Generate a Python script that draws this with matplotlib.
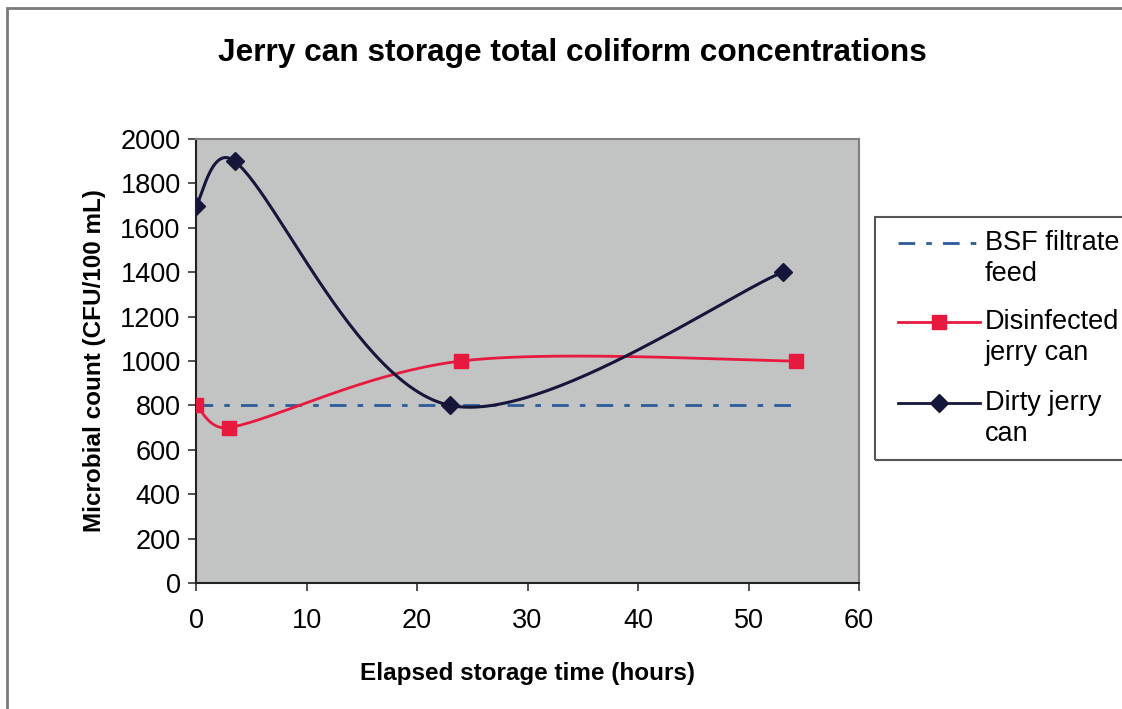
import numpy as np
import matplotlib.pyplot as plt
from matplotlib.lines import Line2D
from matplotlib.patches import Rectangle

plt.rcParams['font.family'] = ['Liberation Sans', 'DejaVu Sans']

# data
bsf_x = [0, 3, 24, 54.3]
bsf_y = [800, 800, 800, 800]
dis_x = [0, 3, 24, 54.3]
dis_y = [800, 700, 1000, 1000]
dirty_x = [0, 3.5, 23, 53.1]
dirty_y = [1700, 1900, 800, 1400]

legend_labels = ['BSF filtrate\nfeed', 'Disinfected\njerry can', 'Dirty jerry\ncan']
x_ticks = [0, 10, 20, 30, 40, 50, 60]
y_ticks = [0, 200, 400, 600, 800, 1000, 1200, 1400, 1600, 1800, 2000]

W, H = 1122, 709
fig = plt.figure(figsize=(W / 100, H / 100), dpi=100)
ax = fig.add_axes([196 / W, 1 - 583 / H, (859 - 196) / W, (583 - 139) / H])
ax.set_xlim(0, 60)
ax.set_ylim(0, 2000)
ax.set_facecolor('#c2c4c3')


def excel_smooth(xs, ys, n=60):
    # excel-like bezier smoothing, done in screen space
    pts = ax.transData.transform(np.column_stack([xs, ys]))
    out = [pts[0]]
    k = len(pts)
    for i in range(k - 1):
        p0, p1, p2, p3 = pts[max(i - 1, 0)], pts[i], pts[i + 1], pts[min(i + 2, k - 1)]
        d12 = np.hypot(*(p2 - p1))
        d02 = np.hypot(*(p2 - p0))
        d13 = np.hypot(*(p3 - p1))
        f = 1 / 6 if d02 == 0 else min(1 / 6, d12 / (2 * d02))
        g = 1 / 6 if d13 == 0 else min(1 / 6, d12 / (2 * d13))
        c1 = p1 + f * (p2 - p0)
        c2 = p2 - g * (p3 - p1)
        t = np.linspace(0, 1, n)[1:, None]
        seg = (1 - t) ** 3 * p1 + 3 * (1 - t) ** 2 * t * c1 + 3 * (1 - t) * t ** 2 * c2 + t ** 3 * p2
        out.extend(seg)
    out = ax.transData.inverted().transform(np.array(out))
    return out[:, 0], out[:, 1]


c_bsf = '#2d5b98'
c_dis = '#e8193f'
c_dirty = '#16163a'

ax.plot(bsf_x, bsf_y, color=c_bsf, lw=2, dashes=(6, 4, 2, 4), zorder=2)
sx, sy = excel_smooth(dis_x, dis_y)
ax.plot(sx, sy, color=c_dis, lw=2, zorder=3)
ax.plot(dis_x, dis_y, ls='none', marker='s', ms=10, color=c_dis, zorder=4)
sx, sy = excel_smooth(dirty_x, dirty_y)
ax.plot(sx, sy, color=c_dirty, lw=2.2, zorder=3)
ax.plot(dirty_x, dirty_y, ls='none', marker='D', ms=9, color=c_dirty, zorder=4)

ax.set_xticks(x_ticks)
ax.set_yticks(y_ticks)
ax.tick_params(labelsize=19.5, direction='out', length=6, width=1.2, color='#333333')
ax.tick_params(axis='x', pad=12)
ax.tick_params(axis='y', pad=5)
for s in ['top', 'right']:
    ax.spines[s].set_color('#808080')
    ax.spines[s].set_linewidth(1.5)
for s in ['left', 'bottom']:
    ax.spines[s].set_color('#222222')
    ax.spines[s].set_linewidth(1.5)

ax.set_xlabel('Elapsed storage time (hours)', fontsize=17.5, fontweight='bold', labelpad=20)
ax.set_ylabel('Microbial count (CFU/100 mL)', fontsize=17.5, fontweight='bold', labelpad=10)
fig.text(572 / W, 1 - 53 / H, 'Jerry can storage total coliform concentrations',
         fontsize=22.8, fontweight='bold', ha='center', va='center')

# chart border
fig.add_artist(Rectangle((7 / W, -0.1), 1.2, 1 - 8 / H + 0.1, transform=fig.transFigure,
                         fill=False, edgecolor='#7a7a7a', lw=2))

# legend box drawn by hand so handles line up with the first text line
fig.add_artist(Rectangle((875 / W, 1 - 460 / H), 0.5, (460 - 217) / H, transform=fig.transFigure,
                         fill=False, edgecolor='#555555', lw=1.5))
styles = [
    dict(color=c_bsf, lw=2, dashes=(6, 4, 2, 4), marker=None),
    dict(color=c_dis, lw=2, marker='s', ms=10),
    dict(color=c_dirty, lw=2, marker='D', ms=9),
]
rows = [243, 322, 403]
for lab, st, yy in zip(legend_labels, styles, rows):
    yf = 1 - yy / H
    fig.add_artist(Line2D([898 / W, 980 / W], [yf, yf], transform=fig.transFigure,
                          **{k: v for k, v in st.items() if k not in ('marker', 'ms')}))
    if st['marker']:
        fig.add_artist(Line2D([939 / W], [yf], transform=fig.transFigure, ls='none',
                              marker=st['marker'], ms=st['ms'], color=st['color']))
    for j, line in enumerate(lab.split('\n')):
        fig.text(985 / W, 1 - (yy + 31 * j) / H, line, fontsize=19.5, va='center', ha='left')

fig.savefig('out.png', dpi=100)
